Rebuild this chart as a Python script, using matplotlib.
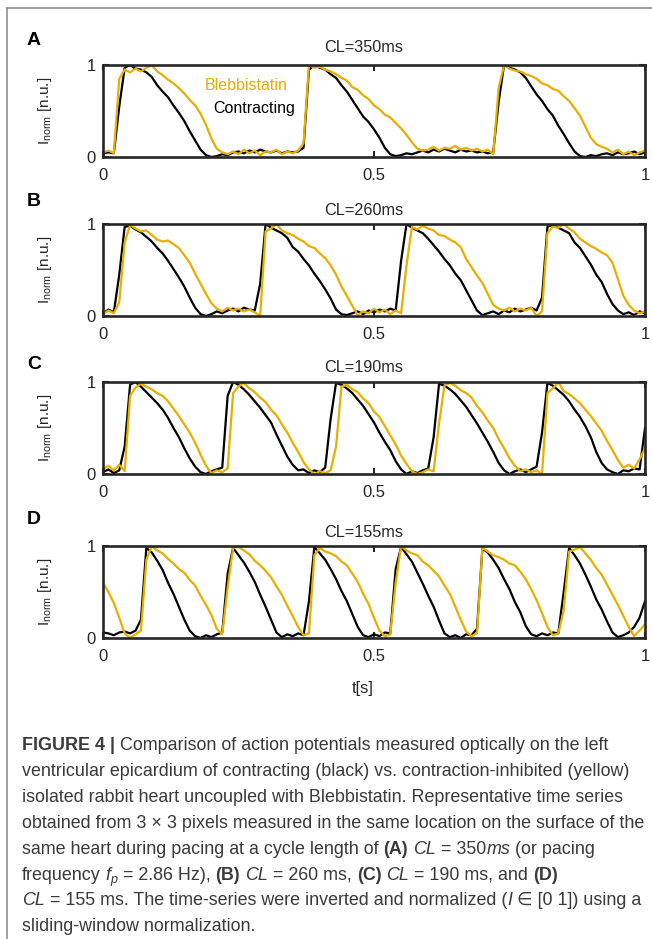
import numpy as np
import matplotlib
matplotlib.use("Agg")
import matplotlib.pyplot as plt
from matplotlib.lines import Line2D

# ---------------------------------------------------------------------------
# Optical action potentials, 1 s window, sampled every 10 ms
# ---------------------------------------------------------------------------
t = np.linspace(0.0, 1.0, 101)

cycle_lengths = ["CL=350ms", "CL=260ms", "CL=190ms", "CL=155ms"]
panel_letters = ["A", "B", "C", "D"]
xtick_values = [0, 0.5, 1]
xtick_labels = ["0", "0.5", "1"]
ytick_values = [0, 1]
ytick_labels = ["0", "1"]
series_names = ["Blebbistatin", "Contracting"]

a_contracting = [
    0.04, 0.05, 0.04,
    0.55, 0.97, 1.00, 0.96, 0.95, 0.92, 0.87, 0.78, 0.71, 0.65, 0.56, 0.48, 0.39, 0.28, 0.18, 0.08, 0.02, 0.00,
    0.01, 0.03, 0.02, 0.05, 0.06, 0.04, 0.07, 0.05, 0.08, 0.06, 0.05, 0.07, 0.04, 0.06, 0.05, 0.06,
    0.10, 0.95, 1.00, 0.97, 0.95, 0.90, 0.86, 0.78, 0.71, 0.62, 0.53, 0.44, 0.38, 0.30, 0.21, 0.10, 0.03, 0.01,
    0.02, 0.04, 0.03, 0.05, 0.07, 0.05, 0.08, 0.06, 0.09, 0.07, 0.05, 0.08, 0.06, 0.07, 0.05, 0.06, 0.04, 0.05,
    0.60, 1.00, 0.97, 0.95, 0.92, 0.86, 0.77, 0.68, 0.61, 0.52, 0.45, 0.34, 0.25, 0.15, 0.06, 0.01,
    0.00, 0.02, 0.01, 0.03, 0.04, 0.02, 0.05, 0.03, 0.04, 0.06, 0.03, 0.05,
]
a_blebbistatin = [
    0.05, 0.07, 0.04,
    0.85, 0.95, 0.92, 0.96, 0.93, 0.97, 1.00, 0.93, 0.89, 0.84, 0.80, 0.75, 0.69, 0.62, 0.56, 0.47, 0.35, 0.20, 0.09, 0.05, 0.03,
    0.06, 0.03, 0.08, 0.04, 0.07, 0.02, 0.06, 0.05, 0.08, 0.03, 0.06, 0.04, 0.07,
    0.15, 1.00, 0.97, 0.98, 0.95, 0.93, 0.90, 0.86, 0.83, 0.76, 0.73, 0.67, 0.63, 0.56, 0.52, 0.46, 0.43, 0.37, 0.31, 0.24, 0.16, 0.09, 0.07,
    0.08, 0.11, 0.07, 0.10, 0.09, 0.12, 0.08, 0.10, 0.07, 0.09, 0.06, 0.08, 0.03,
    0.75, 1.00, 0.96, 0.94, 0.93, 0.90, 0.88, 0.85, 0.80, 0.78, 0.74, 0.72, 0.66, 0.61, 0.53, 0.45, 0.33, 0.21, 0.14, 0.11, 0.09,
    0.05, 0.08, 0.03, 0.06, 0.02, 0.05, 0.07,
]

b_contracting = [
    0.03, 0.07, 0.04, 0.45, 0.97, 0.98, 0.94, 0.91, 0.86, 0.81, 0.74, 0.68, 0.60, 0.51, 0.42, 0.32, 0.20, 0.09, 0.02, 0.00,
    0.02, 0.05, 0.03, 0.06, 0.08, 0.05, 0.09, 0.07, 0.06,
    0.35, 1.00, 0.96, 0.93, 0.90, 0.85,
    0.75, 0.70, 0.62, 0.55, 0.46, 0.38, 0.29, 0.19, 0.07, 0.02,
    0.01, 0.03, 0.05, 0.02, 0.06, 0.04, 0.07, 0.05, 0.08, 0.06,
    0.60, 1.00, 0.96, 0.93, 0.90, 0.84,
    0.77, 0.70, 0.62, 0.55, 0.46, 0.39, 0.28, 0.17, 0.06, 0.01,
    0.03, 0.05, 0.02, 0.06, 0.04, 0.08, 0.05, 0.07, 0.09, 0.06,
    0.20, 0.97, 0.99, 0.96, 0.93, 0.90,
    0.80, 0.74, 0.65, 0.56, 0.45, 0.37, 0.24, 0.13, 0.06, 0.02,
    0.04, 0.01, 0.05, 0.03,
]
b_blebbistatin = [
    0.02, 0.06, 0.03, 0.15, 0.80, 0.99, 0.95, 0.92, 0.93, 0.88, 0.83, 0.81, 0.82, 0.78, 0.74, 0.66, 0.58, 0.46, 0.35, 0.24, 0.14, 0.08,
    0.05, 0.09, 0.06, 0.08, 0.05, 0.07, 0.04, 0.00,
    0.92, 0.95, 1.00, 0.93, 0.90, 0.88,
    0.84, 0.81, 0.76, 0.74, 0.68, 0.63, 0.55, 0.45, 0.32, 0.22, 0.11, 0.01,
    0.05, 0.03, 0.08, 0.04, 0.07, 0.02, 0.06, 0.03,
    0.55, 0.97, 0.94, 0.98, 0.95, 0.93,
    0.88, 0.87, 0.83, 0.80, 0.75, 0.62, 0.53, 0.44, 0.36, 0.24, 0.12, 0.08,
    0.06, 0.09, 0.05, 0.08, 0.06, 0.09, 0.00,
    0.05, 0.90, 0.97, 0.96, 1.00, 0.95, 0.91,
    0.84, 0.80, 0.76, 0.73, 0.69, 0.66, 0.58, 0.40, 0.22, 0.12, 0.06, 0.03, 0.05,
]

c_contracting = [
    0.02, 0.05, 0.01, 0.04, 0.30, 0.97, 1.00, 0.95, 0.89, 0.83, 0.77, 0.70, 0.61, 0.50, 0.40, 0.28, 0.17, 0.08, 0.02, 0.00, 0.03, 0.05, 0.07,
    0.85, 1.00, 0.97, 0.92, 0.86, 0.79, 0.72, 0.64, 0.56, 0.43, 0.31, 0.19, 0.10, 0.04, 0.05, 0.01, 0.04, 0.02, 0.07,
    0.60, 0.99, 0.97, 0.93, 0.88, 0.81, 0.74, 0.65, 0.56, 0.45, 0.35, 0.26, 0.14, 0.05, 0.00, 0.03, 0.01, 0.04, 0.06,
    0.40, 0.98, 0.96, 0.92, 0.87, 0.80, 0.73, 0.64, 0.55, 0.45, 0.35, 0.24, 0.12, 0.04, 0.00, 0.03, 0.05, 0.02, 0.05, 0.08,
    0.45, 0.99, 0.96, 0.91, 0.86, 0.79, 0.70, 0.62, 0.52, 0.40, 0.24, 0.12, 0.05, 0.02, 0.00, 0.04, 0.03, 0.06, 0.05, 0.50,
]
c_blebbistatin = [
    0.05, 0.09, 0.04, 0.10, 0.03, 0.85, 0.94, 0.98, 0.95, 0.92, 0.88, 0.85, 0.79, 0.71, 0.63, 0.54, 0.45, 0.34, 0.21, 0.09, 0.01, 0.04, 0.02, 0.06,
    0.88, 0.95, 0.99, 0.93, 0.89, 0.83, 0.78, 0.70, 0.64, 0.54, 0.45, 0.34, 0.24, 0.13, 0.05, 0.00, 0.03, 0.01, 0.04,
    0.30, 0.95, 0.97, 0.92, 0.89, 0.82, 0.77, 0.68, 0.62, 0.52, 0.42, 0.32, 0.20, 0.11, 0.03, 0.00, 0.02, 0.05, 0.03,
    0.55, 0.96, 0.99, 0.96, 0.91, 0.88, 0.83, 0.74, 0.67, 0.58, 0.50, 0.38, 0.28, 0.17, 0.09, 0.03, 0.05, 0.02, 0.04, 0.00,
    0.88, 0.93, 1.00, 0.90, 0.87, 0.82, 0.77, 0.70, 0.63, 0.55, 0.47, 0.36, 0.26, 0.15, 0.07, 0.10, 0.06, 0.16, 0.28,
]

d_contracting = [
    0.06, 0.05, 0.03, 0.06, 0.07, 0.05, 0.08, 0.20, 0.98, 0.93, 0.84, 0.74, 0.60, 0.48, 0.34, 0.20, 0.08, 0.02, 0.00, 0.03, 0.01, 0.04, 0.06,
    0.70, 0.98, 0.90, 0.82, 0.72, 0.61, 0.47, 0.34, 0.20, 0.06, 0.01, 0.04, 0.02, 0.05, 0.03,
    0.40, 0.99, 0.92, 0.85, 0.75, 0.64, 0.51, 0.40, 0.26, 0.12, 0.03, 0.01, 0.04, 0.02, 0.06, 0.05,
    0.75, 0.99, 0.91, 0.83, 0.71, 0.59, 0.46, 0.34, 0.19, 0.05, 0.01, 0.03, 0.00, 0.04, 0.03, 0.10,
    0.97, 0.93, 0.85, 0.76, 0.64, 0.53, 0.39, 0.28, 0.13, 0.04, 0.02, 0.05, 0.03, 0.06, 0.05,
    0.50, 0.98, 0.90, 0.81, 0.69, 0.56, 0.42, 0.31, 0.18, 0.06, 0.01, 0.03, 0.06, 0.12, 0.22, 0.40,
]
d_blebbistatin = [
    0.60, 0.50, 0.38, 0.22, 0.05, 0.00, 0.04, 0.08, 0.85, 1.00, 0.95, 0.92, 0.86, 0.81, 0.75, 0.71, 0.63, 0.57, 0.46, 0.36, 0.25, 0.10, 0.04, 0.55, 0.98,
    0.99, 0.95, 0.91, 0.84, 0.79, 0.73, 0.66, 0.56, 0.47, 0.35, 0.24, 0.12, 0.03,
    0.05, 0.90, 0.98, 0.94, 0.92, 0.89, 0.83, 0.79, 0.70, 0.61, 0.48, 0.37, 0.22, 0.08, 0.02, 0.04,
    0.60, 1.00, 0.95, 0.92, 0.90, 0.83, 0.79, 0.73, 0.67, 0.57, 0.48, 0.34, 0.20, 0.07, 0.02, 0.05,
    0.98, 0.94, 0.90, 0.88, 0.85, 0.81, 0.79, 0.72, 0.64, 0.53, 0.41, 0.27, 0.12, 0.03, 0.05,
    0.30, 0.94, 0.96, 0.99, 0.92, 0.85, 0.76, 0.69, 0.58, 0.47, 0.36, 0.24, 0.12, 0.02, 0.08, 0.15,
]

contracting = [a_contracting, b_contracting, c_contracting, d_contracting]
blebbistatin = [a_blebbistatin, b_blebbistatin, c_blebbistatin, d_blebbistatin]

caption_lines = [
    [("FIGURE 4 |", "b"), (" Comparison of action potentials measured optically on the left", "n")],
    [("ventricular epicardium of contracting (black) vs. contraction-inhibited (yellow)", "n")],
    [("isolated rabbit heart uncoupled with Blebbistatin. Representative time series", "n")],
    [("obtained from 3 \u00d7 3 pixels measured in the same location on the surface of the", "n")],
    [("same heart during pacing at a cycle length of ", "n"), ("(A)", "b"), (" ", "n"),
     ("CL", "i"), (" = 350", "n"), ("ms", "i"), (" (or pacing", "n")],
    [("frequency ", "n"), ("f", "i"), ("p", "sub"), (" = 2.86 Hz), ", "n"), ("(B)", "b"), (" ", "n"),
     ("CL", "i"), (" = 260 ms, ", "n"), ("(C)", "b"), (" ", "n"), ("CL", "i"),
     (" = 190 ms, and ", "n"), ("(D)", "b")],
    [("CL", "i"), (" = 155 ms. The time-series were inverted and normalized (", "n"), ("I", "i"),
     (" \u2208 [0 1]) using a", "n")],
    [("sliding-window normalization.", "n")],
]

# ---------------------------------------------------------------------------
# Styling
# ---------------------------------------------------------------------------
plt.rcParams["font.family"] = ["Liberation Sans", "DejaVu Sans"]
plt.rcParams["mathtext.fontset"] = "custom"
plt.rcParams["mathtext.rm"] = "Liberation Sans"
plt.rcParams["mathtext.it"] = "Liberation Sans:italic"
plt.rcParams["mathtext.bf"] = "Liberation Sans:bold"

W, H, DPI = 652, 939, 100
YELLOW = "#E8AE00"
AXC = "#262626"
CAPC = "#3a3a3a"

fig = plt.figure(figsize=(W / DPI, H / DPI), dpi=DPI)
fig.patch.set_facecolor("white")


def fx(px):
    return px / W


def fy(py):
    return 1.0 - py / H


AX_L, AX_R, AX_H = 103, 645, 92
panel_tops = [65, 224, 382, 546]
title_baselines = [52, 215, 372, 537]
letter_baselines = [45, 206, 369, 524]

for i in range(4):
    top = panel_tops[i]
    ax = fig.add_axes([fx(AX_L), fy(top + AX_H), (AX_R - AX_L) / W, AX_H / H])
    ax.plot(t, contracting[i], color="black", lw=1.6, solid_joinstyle="round")
    ax.plot(t, blebbistatin[i], color=YELLOW, lw=1.6, solid_joinstyle="round")
    ax.set_xlim(0, 1)
    ax.set_ylim(0, 1)
    ax.set_xticks(xtick_values)
    ax.set_xticklabels(xtick_labels)
    ax.set_yticks(ytick_values)
    ax.set_yticklabels(ytick_labels)
    ax.tick_params(direction="in", top=True, right=True, length=4, width=1.5,
                   color=AXC, labelcolor=AXC, labelsize=12)
    ax.tick_params(axis="x", pad=8)
    ax.tick_params(axis="y", pad=5)
    for sp in ax.spines.values():
        sp.set_linewidth(1.9)
        sp.set_color(AXC)

    fig.text(fx(364), fy(title_baselines[i]), cycle_lengths[i], ha="center",
             va="baseline", fontsize=11.7, color=AXC)
    fig.text(fx(27), fy(letter_baselines[i]), panel_letters[i], ha="left",
             va="baseline", fontsize=14, fontweight="bold", color="black")
    fig.text(fx(45), fy(top + AX_H / 2), r"$\mathregular{I_{norm}}$ [n.u.]",
             rotation=90, ha="center", va="center", fontsize=11, color=AXC)

    if i == 0:
        ax.text(0.188, 0.78, series_names[0], transform=ax.transAxes, ha="left",
                va="center", fontsize=11.5, color=YELLOW)
        ax.text(0.203, 0.53, series_names[1], transform=ax.transAxes, ha="left",
                va="center", fontsize=11.5, color="black")

fig.text(fx(363), fy(693), "t[s]", ha="center", va="baseline", fontsize=12, color=AXC)

# Page border
fig.add_artist(Line2D([fx(7), 1.0], [fy(8), fy(8)], transform=fig.transFigure,
                      color="#8f8f8f", lw=1.2))
fig.add_artist(Line2D([fx(7), fx(7)], [fy(8), 0.0], transform=fig.transFigure,
                      color="#8f8f8f", lw=1.2))

# ---------------------------------------------------------------------------
# Caption with mixed bold / italic runs
# ---------------------------------------------------------------------------
renderer = fig.canvas.get_renderer()


def style_kw(style, fs):
    kw = dict(fontsize=fs, color=CAPC)
    if style == "b":
        kw["fontweight"] = "bold"
    elif style == "i":
        kw["style"] = "italic"
    elif style == "sub":
        kw["style"] = "italic"
        kw["fontsize"] = fs * 0.7
    return kw


def run_width(s, kw):
    tx = fig.text(0, 0, s, **kw)
    w = tx.get_window_extent(renderer).width
    tx.remove()
    return w


def split_run(text):
    """Return (leading spaces, core text, trailing spaces) of a run."""
    core = text.strip(" ")
    if not core:
        return len(text), "", 0
    lead = len(text) - len(text.lstrip(" "))
    trail = len(text) - len(text.rstrip(" "))
    return lead, core, trail


def space_width(fs):
    kw = style_kw("n", fs)
    return run_width("a a", kw) - run_width("aa", kw)


def line_width(segments, fs):
    sw = space_width(fs)
    total = 0.0
    for text, style in segments:
        lead, core, trail = split_run(text)
        total += (lead + trail) * sw
        if core:
            total += run_width(core, style_kw(style, fs))
    return total


base_fs = 10.0
fs = base_fs * 626.0 / line_width(caption_lines[3], base_fs)
space_w = space_width(fs)

CAP_X, CAP_Y0, CAP_DY = 22, 750, 25.9
for li, segments in enumerate(caption_lines):
    x = CAP_X
    yb = CAP_Y0 + li * CAP_DY
    for text, style in segments:
        lead, core, trail = split_run(text)
        x += lead * space_w
        if core:
            kw = style_kw(style, fs)
            y = yb + (0.22 * fs * DPI / 72 if style == "sub" else 0)
            tx = fig.text(fx(x), fy(y), core, ha="left", va="baseline", **kw)
            x += tx.get_window_extent(renderer).width
        x += trail * space_w

fig.savefig("out.png", dpi=DPI, facecolor="white")
